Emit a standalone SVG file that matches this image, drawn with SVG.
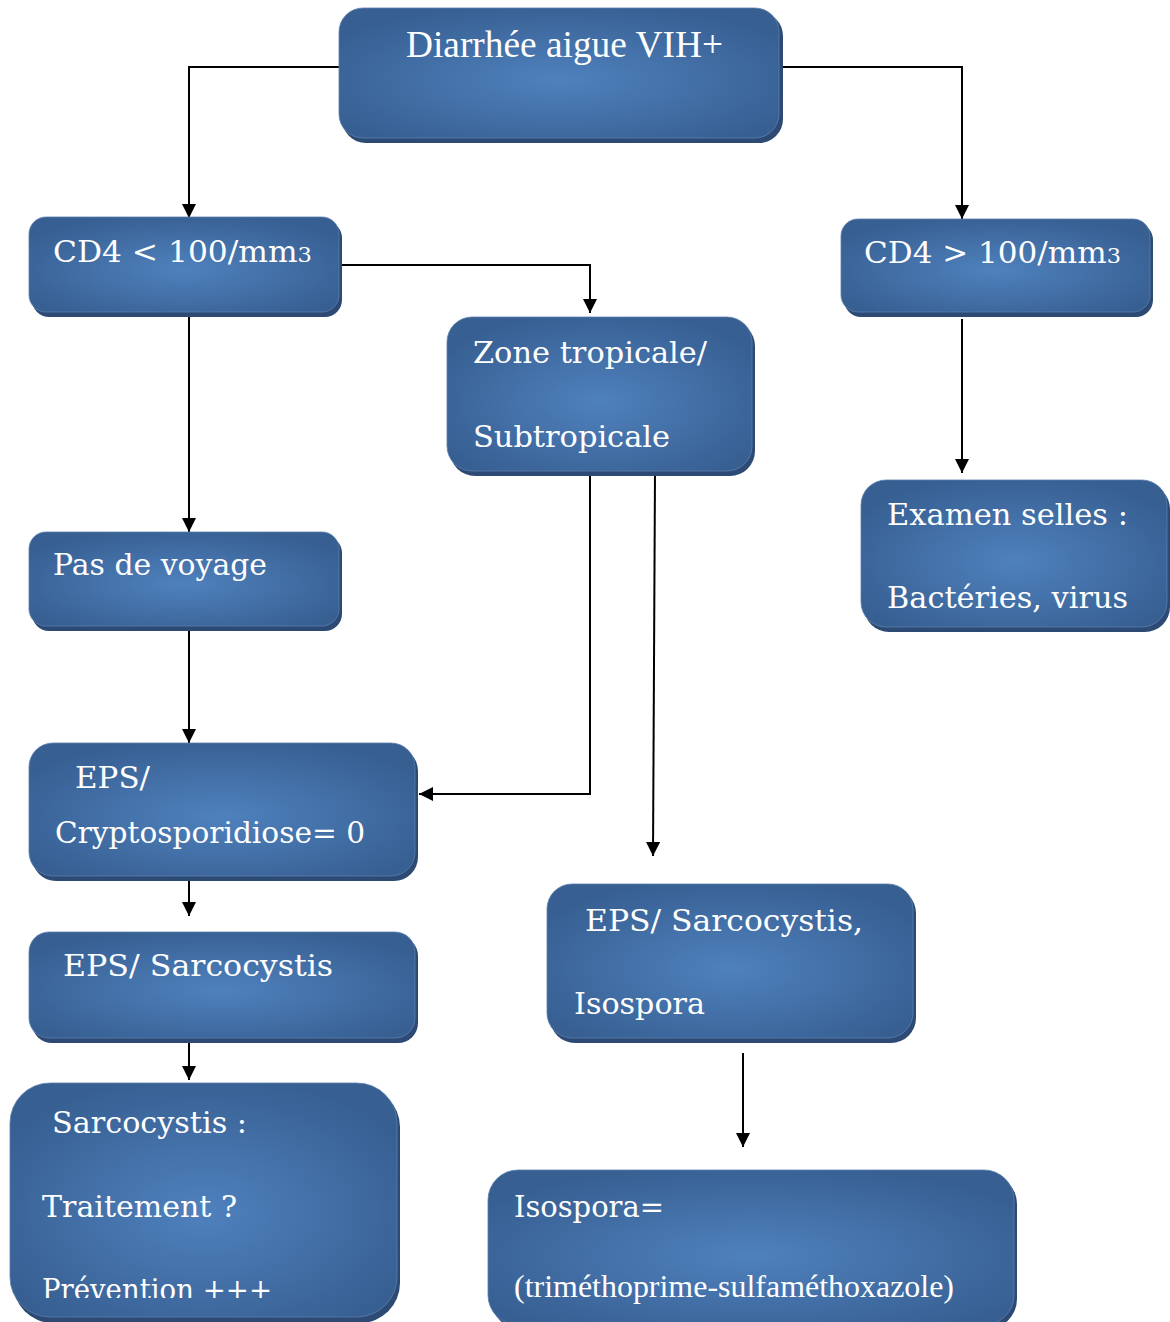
<svg xmlns="http://www.w3.org/2000/svg" width="1170" height="1322" viewBox="0 0 1170 1322">
<defs>
<radialGradient id="g" cx="50%" cy="55%" r="60%">
<stop offset="0" stop-color="#4f81bd"/>
<stop offset="1" stop-color="#375f92"/>
</radialGradient>
<marker id="ah" markerUnits="userSpaceOnUse" markerWidth="14" markerHeight="14" refX="14" refY="7" orient="auto">
<path d="M0,0 L14,7 L0,14 z" fill="#000"/>
</marker>
<clipPath id="clipPrev"><rect x="0" y="1200" width="400" height="98"/></clipPath>
</defs>
<style>
.sh{fill:#2c4a73}
.bx{fill:url(#g);stroke:#5a7fae;stroke-width:0.8}
.t{fill:#fff;font-family:"DejaVu Serif","Liberation Serif",serif;font-size:29px}
.tt{fill:#fff;font-family:"Liberation Serif","Times New Roman",serif}
.c path{fill:none;stroke:#000;stroke-width:2;marker-end:url(#ah)}
</style>
<rect width="1170" height="1322" fill="#fff"/>

<g class="c" id="connectors">
<path d="M339 67 H189 V218"/>
<path d="M782 67 H962 V219"/>
<path d="M341 265 H590 V313"/>
<path d="M189 317 V532"/>
<path d="M962 319 V473"/>
<path d="M590 476 V794 H419"/>
<path d="M655 472 L653 856"/>
<path d="M189 631 V743"/>
<path d="M189 880 V916"/>
<path d="M189 1043 V1080"/>
<path d="M743 1053 V1147"/>
</g>

<g id="n-diarrhee">
<rect class="sh" x="342" y="12" width="441" height="131" rx="24"/>
<rect class="bx" x="339" y="8" width="440" height="130" rx="24"/>
<text class="tt" x="406" y="57" font-size="37" textLength="317" lengthAdjust="spacingAndGlyphs">Diarrhée aigue VIH+</text>
</g>

<g id="n-cd4-low">
<rect class="sh" x="32" y="221" width="310" height="96" rx="17"/>
<rect class="bx" x="29" y="217" width="310" height="95" rx="17"/>
<text class="t" x="53" y="262" textLength="259" lengthAdjust="spacingAndGlyphs">CD4 &lt; 100/mm<tspan font-size="21">3</tspan></text>
</g>

<g id="n-cd4-high">
<rect class="sh" x="844" y="223" width="309" height="94" rx="17"/>
<rect class="bx" x="841" y="219" width="309" height="93" rx="17"/>
<text class="t" x="864" y="263" textLength="257" lengthAdjust="spacingAndGlyphs">CD4 &gt; 100/mm<tspan font-size="21">3</tspan></text>
</g>

<g id="n-zone">
<rect class="sh" x="450" y="321" width="305" height="155" rx="25"/>
<rect class="bx" x="447" y="317" width="305" height="154" rx="25"/>
<text class="t" x="473" y="363" textLength="234" lengthAdjust="spacingAndGlyphs">Zone tropicale/</text>
<text class="t" x="473" y="447" textLength="197" lengthAdjust="spacingAndGlyphs">Subtropicale</text>
</g>

<g id="n-examen">
<rect class="sh" x="864" y="484" width="306" height="148" rx="25"/>
<rect class="bx" x="861" y="480" width="306" height="147" rx="25"/>
<text class="t" x="887" y="525" textLength="241" lengthAdjust="spacingAndGlyphs">Examen selles :</text>
<text class="t" x="887" y="608" textLength="241" lengthAdjust="spacingAndGlyphs">Bactéries, virus</text>
</g>

<g id="n-voyage">
<rect class="sh" x="32" y="536" width="310" height="95" rx="17"/>
<rect class="bx" x="29" y="532" width="310" height="94" rx="17"/>
<text class="t" x="53" y="575" textLength="214" lengthAdjust="spacingAndGlyphs">Pas de voyage</text>
</g>

<g id="n-crypto">
<rect class="sh" x="32" y="747" width="386" height="134" rx="24"/>
<rect class="bx" x="29" y="743" width="386" height="133" rx="24"/>
<text class="t" x="75" y="788" textLength="75" lengthAdjust="spacingAndGlyphs">EPS/</text>
<text class="t" x="55" y="843" textLength="310" lengthAdjust="spacingAndGlyphs">Cryptosporidiose= 0</text>
</g>

<g id="n-sarco-eps">
<rect class="sh" x="32" y="936" width="386" height="107" rx="20"/>
<rect class="bx" x="29" y="932" width="386" height="106" rx="20"/>
<text class="t" x="63" y="976" textLength="270" lengthAdjust="spacingAndGlyphs">EPS/  Sarcocystis</text>
</g>

<g id="n-sarco-iso-eps">
<rect class="sh" x="550" y="888" width="366" height="155" rx="25"/>
<rect class="bx" x="547" y="884" width="366" height="154" rx="25"/>
<text class="t" x="585" y="931" textLength="278" lengthAdjust="spacingAndGlyphs">EPS/  Sarcocystis,</text>
<text class="t" x="574" y="1014" textLength="131" lengthAdjust="spacingAndGlyphs">Isospora</text>
</g>

<g id="n-sarco">
<rect class="sh" x="13" y="1087" width="387" height="236" rx="40"/>
<rect class="bx" x="10" y="1083" width="387" height="234" rx="40"/>
<text class="t" x="52" y="1133" textLength="195" lengthAdjust="spacingAndGlyphs">Sarcocystis :</text>
<text class="t" x="42" y="1217" textLength="195" lengthAdjust="spacingAndGlyphs">Traitement ?</text>
<text class="t" x="42" y="1300" textLength="230" lengthAdjust="spacingAndGlyphs" clip-path="url(#clipPrev)">Prévention +++</text>
</g>

<g id="n-isospora">
<rect class="sh" x="491" y="1174" width="526" height="155" rx="30"/>
<rect class="bx" x="488" y="1170" width="526" height="155" rx="30"/>
<text class="t" x="514" y="1217" textLength="150" lengthAdjust="spacingAndGlyphs">Isospora=</text>
<text class="tt" x="514" y="1297" font-size="31" textLength="440" lengthAdjust="spacingAndGlyphs">(triméthoprime-sulfaméthoxazole)</text>
</g>
</svg>
